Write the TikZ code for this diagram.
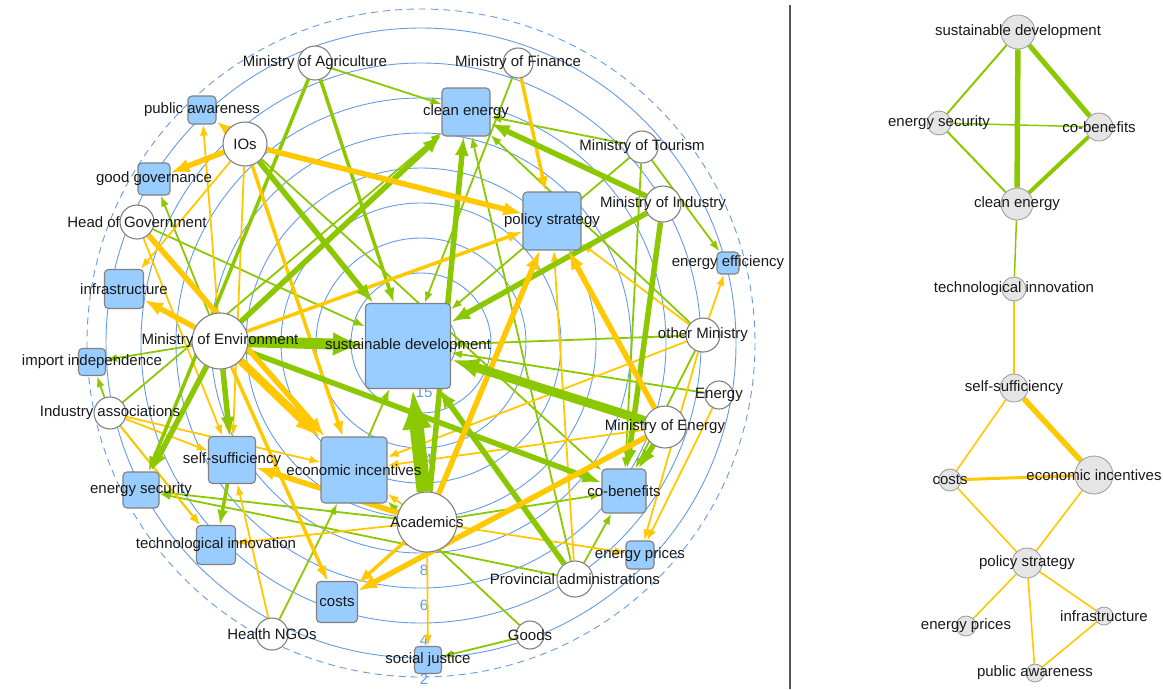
\documentclass[tikz,border=0pt]{standalone}
\usepackage{fontspec}
\setmainfont{Liberation Sans}
\usetikzlibrary{arrows.meta}

\pgfdeclarelayer{rings}
\pgfdeclarelayer{links}
\pgfsetlayers{rings,links,main}

\definecolor{linkgreen}{RGB}{140,200,0}
\definecolor{linkyellow}{RGB}{255,200,0}
\definecolor{ringblue}{RGB}{100,155,228}
\definecolor{conceptblue}{RGB}{153,204,255}
\definecolor{bordergray}{RGB}{128,128,128}
\definecolor{nodegray}{RGB}{229,229,229}
\definecolor{rulegray}{RGB}{85,85,85}

\begin{document}
\begin{tikzpicture}[x=1pt,y=-1pt,
    font=\fontsize{15}{17}\selectfont,
    every label/.style={inner sep=0pt,text=black!90},
    actor/.style={circle,draw=bordergray,fill=white,line width=1.1pt,inner sep=0pt},
    concept/.style={rectangle,rounded corners=4pt,draw=bordergray,fill=conceptblue,line width=1.1pt,inner sep=0pt},
    cluster/.style={circle,draw=bordergray!80,fill=nodegray,line width=0.8pt,inner sep=0pt},
    ring/.style={draw=ringblue,line width=0.9pt},
    ringlabel/.style={text=ringblue,font=\fontsize{15}{16}\selectfont},
    gthin/.style={draw=linkgreen,line width=1.8pt,-{Latex[length=11pt,width=8pt]}},
    gmed/.style={draw=linkgreen,line width=3.5pt,-{Latex[length=15pt,width=11pt]}},
    gthick/.style={draw=linkgreen,line width=5.5pt,-{Latex[length=19pt,width=14pt]}},
    ythin/.style={draw=linkyellow,line width=1.8pt,-{Latex[length=11pt,width=8pt]}},
    ymed/.style={draw=linkyellow,line width=3.5pt,-{Latex[length=15pt,width=11pt]}},
    ythick/.style={draw=linkyellow,line width=5.5pt,-{Latex[length=19pt,width=14pt]}},
    gline/.style={draw=linkgreen,line width=2pt},
    yline/.style={draw=linkyellow,line width=1.6pt}
    ]

    \useasboundingbox (0,0) rectangle (1163,689);

    % rings
    \coordinate (hub) at (421,343);
    \begin{pgfonlayer}{rings}
      \foreach \r in {35,70,...,315}
        \draw[ring] (hub) circle (\r);
      \draw[ring,dash pattern=on 7pt off 5pt] (hub) circle (334);
      \foreach \v/\yy in {2/679,4/640,6/605,8/570,12/494,14/459,15/392}
        \node (ring\v) [ringlabel] at (424,\yy) {\v};
    \end{pgfonlayer}

    % actors
    \node (agr) [actor,minimum size=34pt,label=center:Ministry of Agriculture] at (315,63) {};
    \node (fin) [actor,minimum size=30pt,label=center:Ministry of Finance] at (518,63) {};
    \node (ios) [actor,minimum size=44pt,label=center:IOs] at (245,144) {};
    \node (tou) [actor,minimum size=32pt,label=center:Ministry of Tourism] at (642,147) {};
    \node (hog) [actor,minimum size=34pt,label=center:Head of Government] at (137,222) {};
    \node (ind) [actor,minimum size=36pt,label=center:Ministry of Industry] at (663,204) {};
    \node (env) [actor,minimum size=56pt,label=center:Ministry of Environment] at (220,341) {};
    \node (oth) [actor,minimum size=34pt,label=center:other Ministry] at (703,335) {};
    \node (ias) [actor,minimum size=32pt,label=center:Industry associations] at (110,413) {};
    \node (enr) [actor,minimum size=28pt,label=center:Energy] at (719,395) {};
    \node (moe) [actor,minimum size=42pt,label=center:Ministry of Energy] at (665,427) {};
    \node (aca) [actor,minimum size=60pt,label=center:Academics] at (427,522) {};
    \node (pro) [actor,minimum size=36pt,label=center:Provincial administrations] at (575,579) {};
    \node (hng) [actor,minimum size=32pt,label=center:Health NGOs] at (272,634) {};
    \node (gds) [actor,minimum size=28pt,label=center:Goods] at (530,635) {};

    % concepts
    \node (pa) [concept,minimum size=28pt,label=center:public awareness] at (202,110) {};
    \node (gg) [concept,minimum size=32pt,label=center:good governance] at (154,179) {};
    \node (inf) [concept,minimum size=39pt,label=center:infrastructure] at (124,289) {};
    \node (ce) [concept,minimum size=48pt,label=center:clean energy] at (466,112) {};
    \node (ps) [concept,minimum size=58pt,label=center:policy strategy] at (552,221) {};
    \node (ee) [concept,minimum size=22pt,label=center:energy efficiency] at (728,263) {};
    \node (sd) [concept,minimum size=85pt,label=center:sustainable development] at (408,346) {};
    \node (ii) [concept,minimum size=27pt,label=center:import independence] at (92,362) {};
    \node (ss) [concept,minimum size=47pt,label=center:self-sufficiency] at (232,460) {};
    \node (es) [concept,minimum size=36pt,label=center:energy security] at (141,490) {};
    \node (ti) [concept,minimum size=39pt,label=center:technological innovation] at (216,545) {};
    \node (ei) [concept,minimum size=66pt,label=center:economic incentives] at (354,470) {};
    \node (co) [concept,minimum size=41pt,label=center:costs] at (337,602) {};
    \node (cb) [concept,minimum size=44pt,label=center:co-benefits] at (624,491) {};
    \node (ep) [concept,minimum size=28pt,label=center:energy prices] at (640,555) {};
    \node (sj) [concept,minimum size=27pt,label=center:social justice] at (428,660) {};

    \begin{pgfonlayer}{links}
      \foreach \a/\b in {agr/ce,fin/sd,tou/ce,tou/sd,tou/ee,tou/cb,ios/cb,hog/sd,ias/ce,
          env/ii,env/gg,ias/ii,ias/ti,ei/sd,hng/ei,gds/ei,gds/sj,pro/cb,pro/ce,pro/es,
          aca/es,aca/cb,oth/ce,oth/sd,oth/cb,enr/sd}
        \draw[gthin] (\a) -- (\b);
      \foreach \a/\b in {ios/inf,ios/ss,env/pa,env/ss,hog/ss,ias/ss,ias/ei,ias/ti,hng/ss,
          aca/ti,aca/sj,aca/ep,aca/ei,pro/ps,oth/ps,oth/ee,oth/ei,oth/ep,enr/ep,moe/ei}
        \draw[ythin] (\a) -- (\b);
      \foreach \a/\b in {agr/sd,agr/es,ss/ti}
        \draw[gmed] (\a) -- (\b);
      \foreach \a/\b in {ios/pa,ios/ei,env/co,env/ps,fin/ps,aca/co}
        \draw[ymed] (\a) -- (\b);
      \foreach \a/\b in {ios/sd,env/ce,env/es,env/ss,env/cb,ind/ce,ind/sd,ind/cb,moe/cb,pro/sd,aca/ce}
        \draw[gthick] (\a) -- (\b);
      \foreach \a/\b in {ios/gg,ios/ps,env/inf,hog/ei,aca/ss,aca/ps,moe/ps,moe/co}
        \draw[ythick] (\a) -- (\b);
      \draw[ythick,line width=8pt,-{Latex[length=26pt,width=19pt]}] (env) -- (ei);
      \draw[gthick,line width=9pt,-{Latex[length=28pt,width=20pt]}] (moe) -- (sd);
      \draw[gthick,line width=11pt,-{Latex[length=32pt,width=24pt]}] (env) -- (sd);
      \draw[gthick,line width=14pt,-{Latex[length=40pt,width=30pt]}] (aca) -- (sd);
    \end{pgfonlayer}

    % divider
    \coordinate (ruletop) at (790,5);
    \coordinate (rulebot) at (790,689);
    \draw[rulegray,line width=2pt] (ruletop) -- (rulebot);

    % clusters
    \node (rsd) [cluster,minimum size=34pt,label=center:sustainable development] at (1018,32) {};
    \node (res) [cluster,minimum size=24pt,label=center:energy security] at (939,123) {};
    \node (rcb) [cluster,minimum size=28pt,label=center:co-benefits] at (1099,127) {};
    \node (rce) [cluster,minimum size=32pt,label=center:clean energy] at (1017,204) {};
    \node (rti) [cluster,minimum size=24pt,label=center:technological innovation] at (1014,289) {};
    \node (rss) [cluster,minimum size=28pt,label=center:self-sufficiency] at (1014,388) {};
    \node (rco) [cluster,minimum size=22pt,label=center:costs] at (950,480) {};
    \node (rei) [cluster,minimum size=38pt,label=center:economic incentives] at (1094,475) {};
    \node (rps) [cluster,minimum size=30pt,label=center:policy strategy] at (1027,563) {};
    \node (rep) [cluster,minimum size=20pt,label=center:energy prices] at (966,626) {};
    \node (rinf) [cluster,minimum size=18pt,label=center:infrastructure] at (1104,616) {};
    \node (rpa) [cluster,minimum size=18pt,label=center:public awareness] at (1035,673) {};

    \begin{pgfonlayer}{links}
      \foreach \a/\b in {rsd/res,res/rce}
        \draw[gline] (\a) -- (\b);
      \foreach \a/\b in {res/rcb,rce/rti}
        \draw[gline,line width=1.5pt] (\a) -- (\b);
      \draw[gline,line width=5.5pt] (rsd) -- (rce);
      \draw[gline,line width=5pt] (rsd) -- (rcb);
      \draw[gline,line width=4pt] (rcb) -- (rce);
      \foreach \a/\b in {rti/rss,rss/rco,rco/rps,rei/rps,rps/rep,rps/rpa,rps/rinf,rinf/rpa}
        \draw[yline] (\a) -- (\b);
      \draw[yline,line width=5.5pt] (rss) -- (rei);
      \draw[yline,line width=3pt] (rco) -- (rei);
    \end{pgfonlayer}

  \end{tikzpicture}
\end{document}
